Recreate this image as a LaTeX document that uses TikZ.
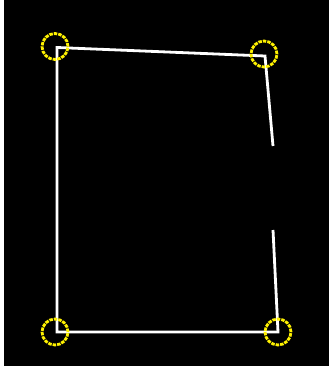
\documentclass[tikz,border=0pt]{standalone}
\begin{document}
\begin{tikzpicture}[x=1pt,y=-1pt,
  edge/.style={draw=white,line width=2.8pt,line join=miter},
  marker/.style={circle,draw=yellow,line width=2.8pt,minimum size=26pt,inner sep=0pt,dash pattern=on 3.5pt off 1pt}]
\useasboundingbox (0,0) rectangle (329,374);
\fill[white] (0,0) rectangle (329,374);
\fill[black] (4,0) rectangle (329,366);
% line corner points
\coordinate (tl) at (57,47.5);
\coordinate (tr) at (265,56);
\coordinate (ra) at (273,146);
\coordinate (rb) at (273,230);
\coordinate (br) at (278,332);
\coordinate (bl) at (57,332);
\draw[edge] (ra) -- (tr) -- (tl) -- (bl) -- (br) -- (rb);
% corner markers
\node[marker] (mtl) at (55,46.5) {};
\node[marker] (mtr) at (264,54) {};
\node[marker] (mbl) at (55,332) {};
\node[marker] (mbr) at (278,332) {};
\end{tikzpicture}
\end{document}
